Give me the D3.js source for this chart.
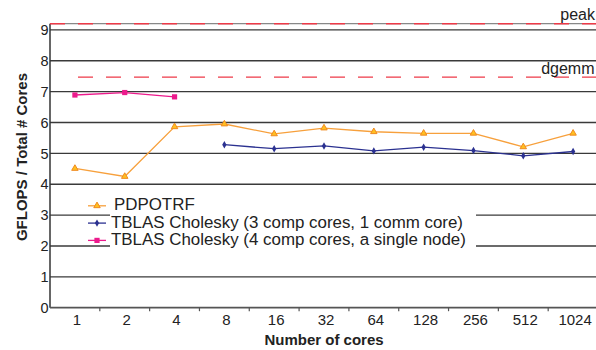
<!DOCTYPE html>
<html><head><meta charset="utf-8">
<script src="https://cdn.jsdelivr.net/npm/d3@7"></script>
<style>body{margin:0;background:#fff}svg{display:block}</style>
</head><body>
<script>
const categories = ["1","2","4","8","16","32","64","128","256","512","1024"];
const pdpotrf = [4.51,4.25,5.86,5.95,5.63,5.82,5.70,5.65,5.65,5.21,5.65];
const tblas3 = [null,null,null,5.28,5.15,5.24,5.08,5.20,5.09,4.92,5.06];
const tblas4 = [6.89,6.97,6.83,null,null,null,null,null,null,null,null];
const yTicks = [0,1,2,3,4,5,6,7,8,9];
const peakValue = 9.2, dgemmValue = 7.47;
const seriesNames = ["PDPOTRF","TBLAS Cholesky (3 comp cores, 1 comm core)","TBLAS Cholesky (4 comp cores, a single node)"];

const W=596,H=350;
const svg=d3.select("body").append("svg").attr("width",W).attr("height",H);
const font="Arial, 'Liberation Sans', sans-serif";
const x=d3.scaleBand().domain(categories).range([50,598]).padding(0);
const y=d3.scaleLinear().domain([0,9.2]).range([307.7,23.7]);

// gridlines
svg.append("g").selectAll("line").data(yTicks.filter(d=>d>0)).join("line")
 .attr("x1",50).attr("x2",W).attr("y1",d=>y(d)).attr("y2",d=>y(d))
 .attr("stroke","#3a3a3a").attr("stroke-width",1.4);
// top border
svg.append("line").attr("x1",50).attr("x2",W).attr("y1",y(9.2)).attr("y2",y(9.2))
 .attr("stroke","#888").attr("stroke-width",1.2);

// y axis labels
svg.append("g").selectAll("text").data(yTicks).join("text")
 .attr("x",48.5).attr("y",d=>y(d)).attr("dy","0.36em").attr("text-anchor","end")
 .attr("font-family",font).attr("font-size",14.5).attr("fill","#222").text(d=>d);

// axis lines
svg.append("line").attr("x1",50).attr("x2",50).attr("y1",y(9.2)).attr("y2",y(0))
 .attr("stroke","#333").attr("stroke-width",1.5);
svg.append("line").attr("x1",50).attr("x2",W).attr("y1",y(0)).attr("y2",y(0))
 .attr("stroke","#555").attr("stroke-width",1.8);
// x ticks at band boundaries
svg.append("g").selectAll("line").data(categories.slice(1)).join("line")
 .attr("x1",d=>x(d)).attr("x2",d=>x(d)).attr("y1",y(0)).attr("y2",y(0)+3.5)
 .attr("stroke","#555").attr("stroke-width",1.2);
svg.append("g").selectAll("text").data(categories).join("text")
 .attr("x",d=>x(d)+x.bandwidth()/2+2).attr("y",324.5).attr("text-anchor","middle")
 .attr("font-family",font).attr("font-size",15).attr("fill","#222").text(d=>d);

// reference dashed lines
svg.append("line").attr("x1",50).attr("x2",W).attr("y1",y(peakValue)).attr("y2",y(peakValue))
 .attr("stroke","#ee3a48").attr("stroke-width",1.4).attr("stroke-dasharray","15,13").attr("stroke-dashoffset",0);
svg.append("line").attr("x1",78).attr("x2",W).attr("y1",y(dgemmValue)).attr("y2",y(dgemmValue))
 .attr("stroke","#ee3a48").attr("stroke-width",1.4).attr("stroke-dasharray","15,13");
svg.append("text").attr("x",595).attr("y",20).attr("text-anchor","end")
 .attr("font-family",font).attr("font-size",16).attr("fill","#222").text("peak");
svg.append("text").attr("x",594.5).attr("y",74).attr("text-anchor","end")
 .attr("font-family",font).attr("font-size",16).attr("fill","#222").text("dgemm");

const cx=i=>x(categories[i])+x.bandwidth()/2;
const line=d3.line().defined(d=>d!=null).x((d,i)=>cx(i)).y(d=>y(d));
const colors=["#f7a03c","#2b3190","#ec1a8c"];
const data=[pdpotrf,tblas3,tblas4];
function marker(g,k,px,py){
  if(k===0){
    g.append("path").attr("d",d3.symbol(d3.symbolTriangle,18)()).attr("transform",`translate(${px},${py})`)
     .attr("fill","#ffc020").attr("stroke","#f08a20").attr("stroke-width",1);
  } else if(k===1){
    g.append("path").attr("d",d3.symbol(d3.symbolDiamond,16)()).attr("transform",`translate(${px},${py})`)
     .attr("fill","#2b3190");
  } else {
    g.append("rect").attr("x",px-2.6).attr("y",py-2.6).attr("width",5.2).attr("height",5.2).attr("fill","#ec1a8c");
  }
}
data.forEach((arr,k)=>{
  svg.append("path").datum(arr).attr("d",line).attr("fill","none")
   .attr("stroke",colors[k]).attr("stroke-width",1.3);
  const g=svg.append("g");
  arr.forEach((v,i)=>{ if(v!=null) marker(g,k,cx(i),y(v)); });
});

// legend
svg.append("rect").attr("x",110).attr("y",194).attr("width",366).attr("height",58).attr("fill","#fff");
seriesNames.forEach((n,k)=>{
  const ty=204.3+k*17.3, sy=ty+1.5;
  svg.append("line").attr("x1",88).attr("x2",106).attr("y1",sy).attr("y2",sy)
   .attr("stroke",colors[k]).attr("stroke-width",1.3);
  marker(svg,k,97,sy);
  svg.append("text").attr("x",k===0?114:111).attr("y",ty).attr("dy","0.36em")
   .attr("font-family",font).attr("font-size",16.9).attr("fill","#222").text(n);
});

// axis titles
svg.append("text").attr("transform","translate(26.5,157) rotate(-90)").attr("text-anchor","middle")
 .attr("font-family",font).attr("font-size",15).attr("font-weight","bold").attr("fill","#222")
 .text("GFLOPS / Total # Cores");
svg.append("text").attr("x",324).attr("y",345).attr("text-anchor","middle")
 .attr("font-family",font).attr("font-size",15).attr("font-weight","bold").attr("fill","#222")
 .text("Number of cores");
</script>
</body></html>
